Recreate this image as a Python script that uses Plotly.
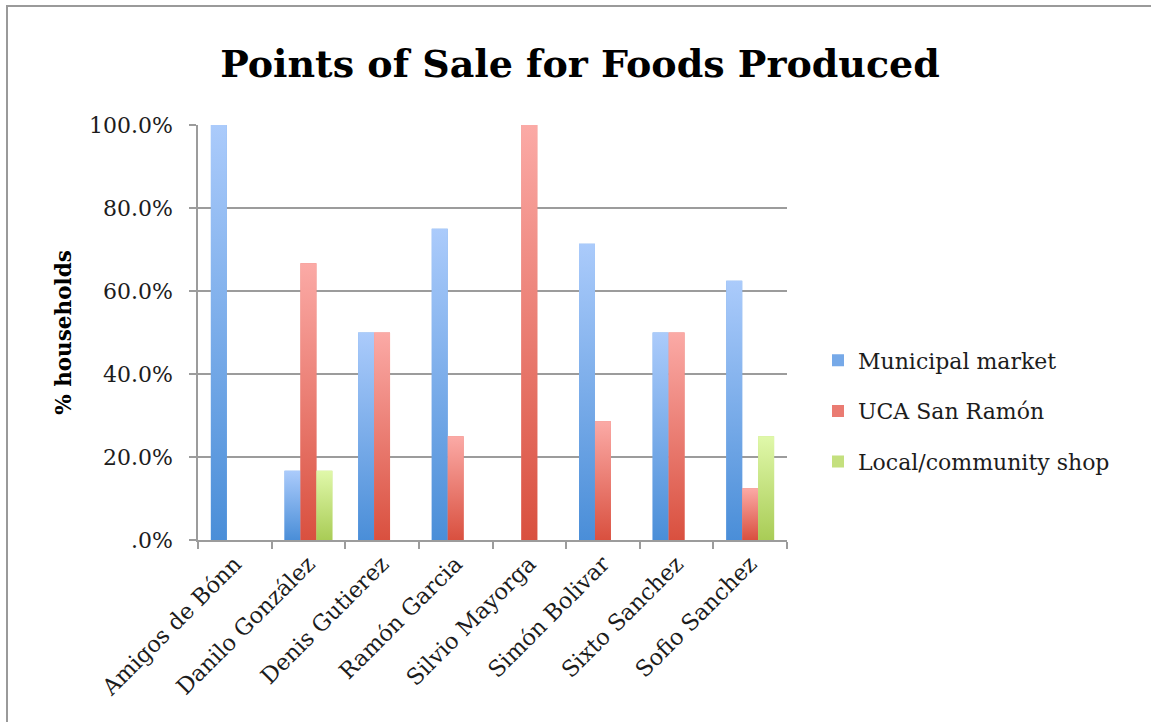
import plotly.graph_objects as go

# --- data -------------------------------------------------------------
farms = ["Amigos de Bónn", "Danilo González", "Denis Gutierez", "Ramón Garcia",
         "Silvio Mayorga", "Simón Bolivar", "Sixto Sanchez", "Sofio Sanchez"]
municipal_market = [100.0, 16.7, 50.0, 75.0, 0.0, 71.4, 50.0, 62.5]
uca_san_ramon = [0.0, 66.7, 50.0, 25.0, 100.0, 28.6, 50.0, 12.5]
local_shop = [0.0, 16.7, 0.0, 0.0, 0.0, 0.0, 0.0, 25.0]
series_names = ["Municipal market", "UCA San Ramón", "Local/community shop"]
y_tick_vals = [0, 20, 40, 60, 80, 100]
y_tick_text = [".0%", "20.0%", "40.0%", "60.0%", "80.0%", "100.0%"]

# --- styling ----------------------------------------------------------
series_values = [municipal_market, uca_san_ramon, local_shop]
mid_colors = ["#76a9e8", "#ea7b72", "#c4e07e"]
gradients = [("#4a8ed8", "#abcbfb"), ("#d9503f", "#fbaaa6"), ("#a9cc56", "#e0f8aa")]
GROUP_W = 0.65
BAR_W = GROUP_W / 3
GRID = "#9c9c9c"
SERIF = "DejaVu Serif"

fig = go.Figure()

x_idx = list(range(len(farms)))
for k, (name, vals) in enumerate(zip(series_names, series_values)):
    offset = -GROUP_W / 2 + k * BAR_W
    fig.add_trace(go.Bar(
        x=x_idx, y=vals, name=name, width=BAR_W, offset=offset,
        marker=dict(color=mid_colors[k], line=dict(width=0)),
        legendgroup=name,
    ))
    # vertical shading laid over each bar, built from the same values
    dark, light = gradients[k]
    for i, v in enumerate(vals):
        if v <= 0:
            continue
        x0 = i + offset
        x1 = x0 + BAR_W
        fig.add_trace(go.Scatter(
            x=[x0, x1, x1, x0, x0], y=[0, 0, v, v, 0],
            mode="lines", line=dict(width=0), fill="toself",
            fillgradient=dict(type="vertical", colorscale=[[0, dark], [1, light]],
                              start=0, stop=v),
            showlegend=False, hoverinfo="skip", legendgroup=name,
        ))

L, R, T, B = 198, 787, 125, 540
W, H = 1151, 722
pw, ph = R - L, B - T

fig.update_layout(
    width=W, height=H,
    margin=dict(l=L, r=W - R, t=T, b=H - B, pad=0),
    paper_bgcolor="white", plot_bgcolor="white",
    barmode="overlay",
    font=dict(family=SERIF, color="#1c1c1c"),
    title=dict(text="Points of Sale for Foods Produced",
               font=dict(family=SERIF, size=38, weight="bold", color="#000000"),
               x=580 / W, xanchor="center", y=1 - 64 / H, yanchor="middle"),
    legend=dict(x=(818 - L) / pw, xanchor="left", y=(B - 411) / ph, yanchor="middle",
                font=dict(family=SERIF, size=22, color="#1c1c1c"),
                tracegroupgap=19, bgcolor="rgba(0,0,0,0)"),
    showlegend=True,
    shapes=[dict(type="rect", xref="paper", yref="paper",
                 x0=(7 - L) / pw, x1=(W + 20 - L) / pw,
                 y0=(B - H - 20) / ph, y1=(B - 6) / ph,
                 line=dict(color="#9a9a9a", width=2), fillcolor="rgba(0,0,0,0)",
                 layer="below")],
)

fig.update_xaxes(
    range=[-0.5, len(farms) - 0.5],
    tickmode="array", tickvals=x_idx, ticktext=farms, tickangle=-45,
    ticks="", showgrid=False, zeroline=False,
    showline=True, linecolor=GRID, linewidth=1.6,
    tickfont=dict(family=SERIF, size=22.5, color="#1c1c1c"),
    minor=dict(tickmode="array", tickvals=[i - 0.5 for i in range(len(farms) + 1)],
               ticks="outside", ticklen=7, tickwidth=1.6, tickcolor=GRID, showgrid=False),
)
fig.update_yaxes(
    range=[0, 100],
    tickmode="array", tickvals=y_tick_vals, ticktext=y_tick_text,
    ticks="outside", ticklen=7, tickwidth=1.6, tickcolor=GRID,
    showgrid=True, gridcolor=GRID, gridwidth=1.6, zeroline=False,
    showline=True, linecolor=GRID, linewidth=1.6,
    tickfont=dict(family=SERIF, size=22, color="#1c1c1c"),
    ticklabelstandoff=12,
    title=dict(text="% households", font=dict(family=SERIF, size=21.5, weight="bold",
                                               color="#000000"), standoff=11),
)

fig.write_html("out.html")
